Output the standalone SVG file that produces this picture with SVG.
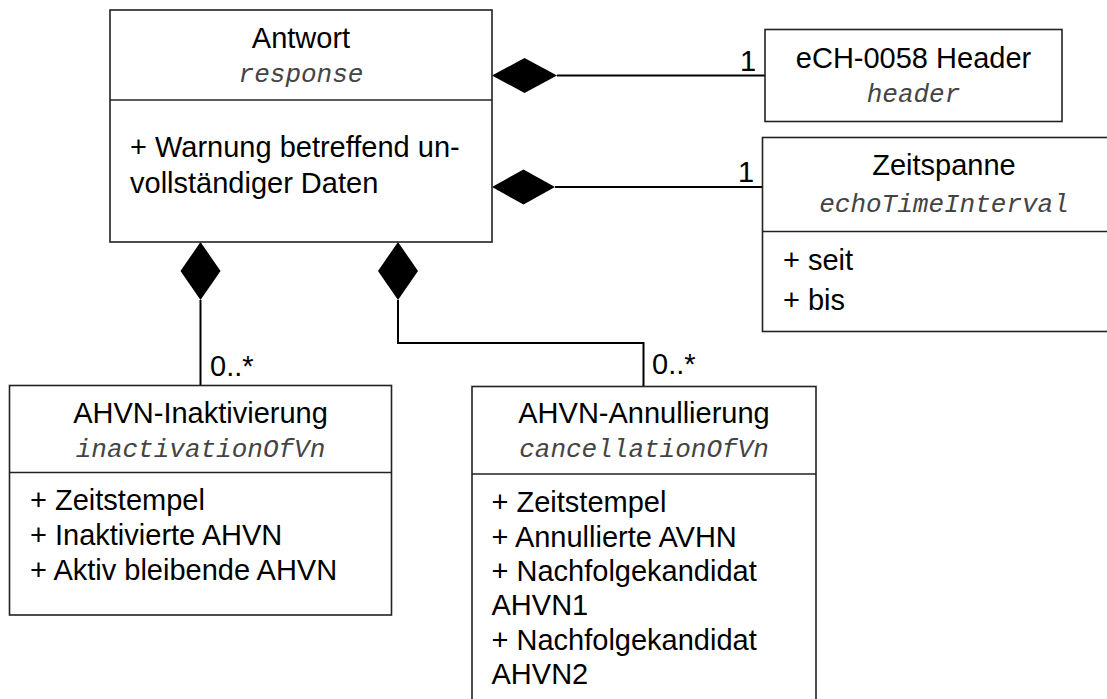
<svg xmlns="http://www.w3.org/2000/svg" width="1107" height="699" viewBox="0 0 1107 699">
<style>
.box{fill:#fff;stroke:#222;stroke-width:1.6}
.div{stroke:#222;stroke-width:1.6}
.t{font-family:"Liberation Sans",Arial,sans-serif;font-size:29px;fill:#000}
.c{text-anchor:middle}
.m{font-family:"Liberation Mono","Courier New",monospace;font-style:italic;font-size:26px;fill:#444;text-anchor:middle}
.ln{fill:none;stroke:#000;stroke-width:2}
.dm{fill:#000;stroke:none}
</style>
<rect width="1107" height="699" fill="#fff"/>
<g id="connectors">
<polygon class="dm" points="492,75.5 524.5,58 557,75.5 524.5,93"/>
<line class="ln" x1="557" y1="75.5" x2="765" y2="75.5"/>
<text class="t" x="740" y="70.5">1</text>
<polygon class="dm" points="492,187 523.5,169.5 555,187 523.5,204.5"/>
<line class="ln" x1="555" y1="187" x2="762.5" y2="187"/>
<text class="t" x="738" y="181.5">1</text>
<polygon class="dm" points="200.5,242 220.5,271 200.5,300 180.5,271"/>
<line class="ln" x1="200.5" y1="300" x2="200.5" y2="385.5"/>
<text class="t" x="210" y="375.5">0..*</text>
<polygon class="dm" points="398,242 418,271 398,300 378,271"/>
<polyline class="ln" points="398,300 398,343 643.5,343 643.5,386.5"/>
<text class="t" x="652" y="373.5">0..*</text>
</g>
<g id="antwort">
<rect class="box" x="110" y="10" width="382" height="232"/>
<line class="div" x1="110" y1="100" x2="492" y2="100"/>
<text class="t c" x="301" y="48">Antwort</text>
<text class="m" x="301" y="82">response</text>
<text class="t" x="130" y="157">+ Warnung betreffend un-</text>
<text class="t" x="130" y="193">vollständiger Daten</text>
</g>
<g id="header">
<rect class="box" x="765" y="29.5" width="297" height="92"/>
<text class="t c" x="913.5" y="68">eCH-0058 Header</text>
<text class="m" x="913.5" y="102">header</text>
</g>
<g id="zeitspanne">
<rect class="box" x="762.5" y="137.5" width="364" height="194"/>
<line class="div" x1="762.5" y1="231.5" x2="1126.5" y2="231.5"/>
<text class="t c" x="944" y="175">Zeitspanne</text>
<text class="m" x="944" y="212">echoTimeInterval</text>
<text class="t" x="783" y="270">+ seit</text>
<text class="t" x="783" y="310">+ bis</text>
</g>
<g id="inaktivierung">
<rect class="box" x="9.5" y="385.5" width="382" height="229.5"/>
<line class="div" x1="9.5" y1="472.5" x2="391.5" y2="472.5"/>
<text class="t c" x="200.5" y="423">AHVN-Inaktivierung</text>
<text class="m" x="200.5" y="457">inactivationOfVn</text>
<text class="t" x="30" y="510">+ Zeitstempel</text>
<text class="t" x="30" y="545">+ Inaktivierte AHVN</text>
<text class="t" x="30" y="580">+ Aktiv bleibende AHVN</text>
</g>
<g id="annullierung">
<rect class="box" x="472" y="386.5" width="344" height="330"/>
<line class="div" x1="472" y1="474" x2="816" y2="474"/>
<text class="t c" x="644" y="423">AHVN-Annullierung</text>
<text class="m" x="644" y="457">cancellationOfVn</text>
<text class="t" x="491.5" y="512">+ Zeitstempel</text>
<text class="t" x="491.5" y="546.5">+ Annullierte AVHN</text>
<text class="t" x="491.5" y="581">+ Nachfolgekandidat</text>
<text class="t" x="491.5" y="615">AHVN1</text>
<text class="t" x="491.5" y="650">+ Nachfolgekandidat</text>
<text class="t" x="491.5" y="684">AHVN2</text>
</g>
</svg>
